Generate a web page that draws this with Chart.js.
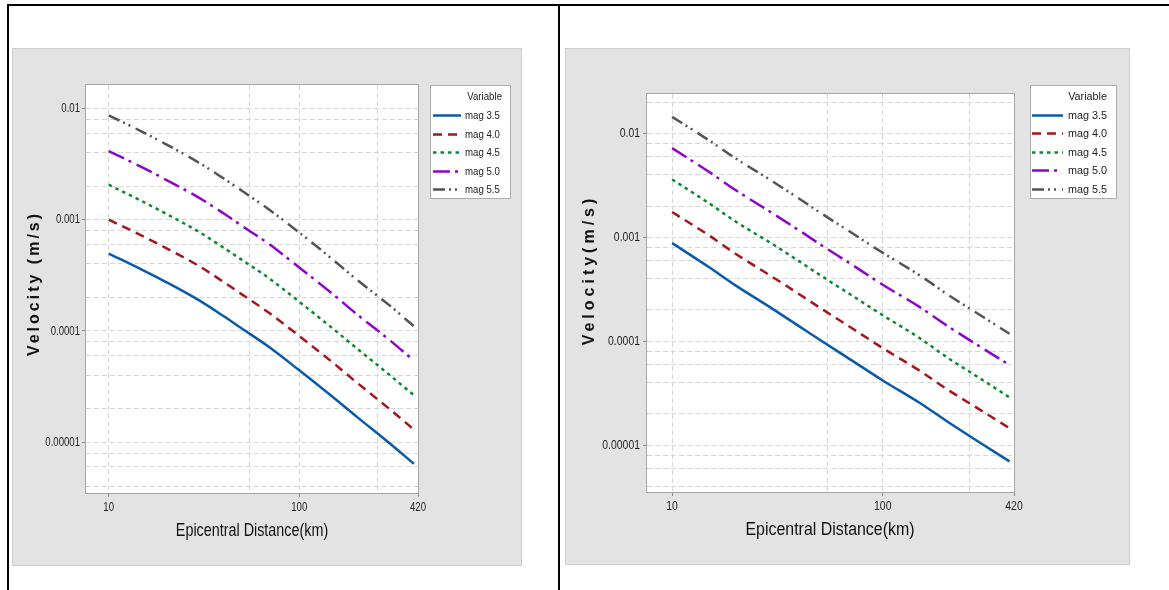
<!DOCTYPE html>
<html>
<head>
<meta charset="utf-8">
<script src="https://cdn.jsdelivr.net/npm/chart.js@4.4.1/dist/chart.umd.min.js"></script>
<style>
  html, body { margin: 0; padding: 0; background: #fff; }
  body { width: 1169px; height: 590px; position: relative; overflow: hidden; }
  .rule { position: absolute; background: #000; }
  canvas { position: absolute; }
</style>
</head>
<body>
<div class="rule" style="left:7px; top:4px; width:1162px; height:2px"></div>
<div class="rule" style="left:7px; top:4px; width:2px; height:586px"></div>
<div class="rule" style="left:558px; top:4px; width:2px; height:586px"></div>
<canvas id="leftChart" width="510" height="518" style="left:12px; top:48px"></canvas>
<canvas id="rightChart" width="565" height="517" style="left:565px; top:48px"></canvas>
<script>
// epicentral distance (km)
const distances = [10, 15, 20, 30, 40, 50, 70, 100, 150, 200, 300, 400];
const magLabels = ["mag 3.5", "mag 4.0", "mag 4.5", "mag 5.0", "mag 5.5"];

// left panel, velocity (m/s)
const leftMag35 = [4.96e-4, 3.54e-4, 2.75e-4, 1.87e-4, 1.36e-4, 1.05e-4, 7.1e-5, 4.43e-5, 2.55e-5, 1.7e-5, 9.7e-6, 6.4e-6];
const leftMag40 = [1.0e-3, 7.15e-4, 5.55e-4, 3.8e-4, 2.76e-4, 2.13e-4, 1.44e-4, 9.0e-5, 5.2e-5, 3.45e-5, 1.97e-5, 1.3e-5];
const leftMag45 = [2.06e-3, 1.46e-3, 1.13e-3, 7.7e-4, 5.6e-4, 4.35e-4, 2.94e-4, 1.83e-4, 1.05e-4, 7.0e-5, 3.98e-5, 2.64e-5];
const leftMag50 = [4.13e-3, 2.95e-3, 2.28e-3, 1.56e-3, 1.14e-3, 8.8e-4, 5.97e-4, 3.72e-4, 2.14e-4, 1.42e-4, 8.2e-5, 5.4e-5];
const leftMag55 = [8.65e-3, 6.15e-3, 4.75e-3, 3.22e-3, 2.35e-3, 1.82e-3, 1.22e-3, 7.65e-4, 4.38e-4, 2.9e-4, 1.68e-4, 1.1e-4];

// right panel, velocity (m/s)
const rightMag35 = [8.8e-4, 5.15e-4, 3.45e-4, 2.05e-4, 1.4e-4, 1.04e-4, 6.7e-5, 4.2e-5, 2.55e-5, 1.72e-5, 1.01e-5, 7.0e-6];
const rightMag40 = [1.75e-3, 1.04e-3, 6.95e-4, 4.15e-4, 2.85e-4, 2.12e-4, 1.37e-4, 8.6e-5, 5.2e-5, 3.5e-5, 2.1e-5, 1.46e-5];
const rightMag45 = [3.6e-3, 2.12e-3, 1.42e-3, 8.6e-4, 5.9e-4, 4.38e-4, 2.83e-4, 1.78e-4, 1.07e-4, 7.1e-5, 4.2e-5, 2.88e-5];
const rightMag50 = [7.2e-3, 4.25e-3, 2.85e-3, 1.7e-3, 1.17e-3, 8.65e-4, 5.6e-4, 3.5e-4, 2.13e-4, 1.43e-4, 8.5e-5, 5.9e-5];
const rightMag55 = [1.44e-2, 8.55e-3, 5.75e-3, 3.45e-3, 2.36e-3, 1.75e-3, 1.13e-3, 7.1e-4, 4.3e-4, 2.88e-4, 1.71e-4, 1.18e-4];

// axis ticks
const xTickValues = [10, 100, 420];
const xTickLabels = ["10", "100", "420"];
const xGridValues = [10, 54.6, 100, 258, 420];
const yTickValues = [0.01, 0.001, 0.0001, 0.00001];
const yTickLabels = ["0.01", "0.001", "0.0001", "0.00001"];
const yGridSteps = [1, 2, 4, 6, 8];

// no narrow face installed, so Liberation Sans gets squeezed horizontally
const FONT = "'Liberation Sans', Arial, sans-serif";

const lineStyles = [
  { color: "#0a5aa8", dash: [] },
  { color: "#a3161c", dash: [9, 6] },
  { color: "#0b8a2c", dash: [3.5, 4] },
  { color: "#8e05c8", dash: [17, 5, 3, 6] },
  { color: "#545454", dash: [12, 4, 2, 4, 2, 6] }
];

function sameVal(a, b) {
  return Math.abs(Math.log10(a) - Math.log10(b)) < 1e-6;
}

function squeezedText(ctx, text, x, y, font, sx, align) {
  ctx.save();
  ctx.translate(x, y);
  ctx.scale(sx, 1);
  ctx.font = font;
  ctx.textAlign = align;
  ctx.textBaseline = "middle";
  ctx.fillText(text, 0, 0);
  ctx.restore();
}

const panelPlugin = {
  id: "panel",
  beforeDraw(chart) {
    const ctx = chart.ctx, a = chart.chartArea;
    ctx.save();
    ctx.fillStyle = "#e3e3e3";
    ctx.fillRect(0, 0, chart.width, chart.height);
    ctx.strokeStyle = "#cdcdcd";
    ctx.lineWidth = 1;
    ctx.strokeRect(0.5, 0.5, chart.width - 1, chart.height - 1);
    ctx.fillStyle = "#ffffff";
    ctx.fillRect(a.left, a.top, a.right - a.left, a.bottom - a.top);
    ctx.restore();
  },
  beforeDatasetsDraw(chart) {
    const ctx = chart.ctx, a = chart.chartArea;
    ctx.save();
    ctx.strokeStyle = "#a6a6a6";
    ctx.lineWidth = 1;
    ctx.strokeRect(Math.round(a.left) - 0.5, Math.round(a.top) - 0.5,
      Math.round(a.right - a.left) + 1, Math.round(a.bottom - a.top) + 1);
    ctx.restore();
  },
  afterDraw(chart, args, o) {
    const ctx = chart.ctx, a = chart.chartArea;
    const xs = chart.scales.x, ys = chart.scales.y;
    ctx.save();
    ctx.fillStyle = "#222";

    // tick labels
    const tickFont = o.tickSize + "px " + FONT;
    xTickValues.forEach((v, i) => {
      squeezedText(ctx, xTickLabels[i], xs.getPixelForValue(v), a.bottom + o.xLabelDy, tickFont, o.tickSx, "center");
    });
    yTickValues.forEach((v, i) => {
      squeezedText(ctx, yTickLabels[i], a.left - o.yLabelDx, ys.getPixelForValue(v) + 0.5, tickFont, o.tickSx, "right");
    });

    // x axis title
    ctx.fillStyle = "#111";
    squeezedText(ctx, o.xTitle.text, o.xTitle.x, o.xTitle.y, o.xTitle.size + "px " + FONT, o.xTitle.sx, "center");

    // y axis title, rotated and letter spaced
    ctx.save();
    ctx.translate(o.yTitle.x, o.yTitle.y);
    ctx.rotate(-Math.PI / 2);
    ctx.font = "bold " + o.yTitle.size + "px " + FONT;
    ctx.letterSpacing = o.yTitle.spacing + "px";
    ctx.textAlign = "center";
    ctx.textBaseline = "middle";
    ctx.fillText(o.yTitle.text, o.yTitle.spacing / 2, 0);
    ctx.restore();

    // legend box
    const lg = o.legend;
    ctx.fillStyle = "#fff";
    ctx.fillRect(lg.x, lg.y, lg.w, lg.h);
    ctx.strokeStyle = "#adadad";
    ctx.lineWidth = 1;
    ctx.strokeRect(lg.x + 0.5, lg.y + 0.5, lg.w - 1, lg.h - 1);
    const lgFont = lg.size + "px " + FONT;
    ctx.fillStyle = "#222";
    squeezedText(ctx, "Variable", lg.x + lg.w - lg.titleRight, lg.y + 12, lgFont, lg.sx, "right");
    chart.data.datasets.forEach((ds, i) => {
      const yy = Math.round(lg.y + lg.rowTop + i * lg.rowGap) + 0.5;
      ctx.beginPath();
      ctx.setLineDash(ds.borderDash || []);
      ctx.lineWidth = ds.borderWidth;
      ctx.strokeStyle = ds.borderColor;
      ctx.moveTo(lg.x + lg.lineX0, yy);
      ctx.lineTo(lg.x + lg.lineX1, yy);
      ctx.stroke();
      ctx.setLineDash([]);
      squeezedText(ctx, ds.label, lg.x + lg.textX, yy, lgFont, lg.sx, "left");
    });
    ctx.restore();
  }
};

function makeChart(id, series, o) {
  const yGrid = [];
  for (let e = -6; e <= -2; e++) {
    yGridSteps.forEach(s => {
      const v = s * Math.pow(10, e);
      if (v > o.yMin && v < o.yMax) yGrid.push(v);
    });
  }

  return new Chart(document.getElementById(id), {
    type: "line",
    data: {
      datasets: magLabels.map((label, i) => ({
        label: label,
        data: distances.map((d, j) => ({ x: d, y: series[i][j] })),
        borderColor: lineStyles[i].color,
        borderDash: lineStyles[i].dash,
        borderWidth: 2.5,
        pointRadius: 0,
        cubicInterpolationMode: "monotone",
        fill: false
      }))
    },
    options: {
      responsive: false,
      animation: false,
      layout: { padding: { top: o.padTop, right: o.padRight, left: 0, bottom: 0 } },
      plugins: {
        legend: { display: false },
        tooltip: { enabled: false },
        panel: o.panel
      },
      scales: {
        x: {
          type: "logarithmic",
          min: 7.6,
          max: 420,
          afterFit(s) { s.height = o.xAxisH; },
          afterBuildTicks(s) { s.ticks = xGridValues.map(v => ({ value: v })); },
          ticks: { display: false, autoSkip: false },
          grid: {
            color: c => (c.tick && sameVal(c.tick.value, 420)) ? "transparent" : "#d6d6d6",
            tickLength: 4,
            tickColor: c => (c.tick && xTickValues.some(t => sameVal(t, c.tick.value))) ? "#8c8c8c" : "transparent"
          },
          border: { display: false, dash: [5, 3] }
        },
        y: {
          type: "logarithmic",
          min: o.yMin,
          max: o.yMax,
          afterFit(s) { s.width = o.yAxisW; },
          afterBuildTicks(s) { s.ticks = yGrid.map(v => ({ value: v })); },
          ticks: { display: false, autoSkip: false },
          grid: {
            color: "#d6d6d6",
            tickLength: 4,
            tickColor: c => (c.tick && yTickValues.some(t => sameVal(t, c.tick.value))) ? "#8c8c8c" : "transparent"
          },
          border: { display: false, dash: [5, 3] }
        }
      }
    },
    plugins: [panelPlugin]
  });
}

makeChart("leftChart", [leftMag35, leftMag40, leftMag45, leftMag50, leftMag55], {
  yMin: 3.5e-6, yMax: 0.0162,
  padTop: 37, padRight: 104, yAxisW: 74, xAxisH: 73,
  panel: {
    tickSize: 12, tickSx: 0.8, xLabelDy: 15, yLabelDx: 6,
    xTitle: { text: "Epicentral Distance(km)", x: 240, y: 483, size: 17.5, sx: 0.82 },
    yTitle: { text: "Velocity (m/s)", x: 23, y: 237, size: 16, spacing: 3 },
    legend: { x: 418, y: 37, w: 81, h: 114, size: 11.5, sx: 0.84, titleRight: 9, rowTop: 30, rowGap: 18.6, lineX0: 3, lineX1: 31, textX: 35 }
  }
});

makeChart("rightChart", [rightMag35, rightMag40, rightMag45, rightMag50, rightMag55], {
  yMin: 3.55e-6, yMax: 0.0239,
  padTop: 46, padRight: 116, yAxisW: 82, xAxisH: 73,
  panel: {
    tickSize: 12, tickSx: 0.87, xLabelDy: 15, yLabelDx: 7,
    xTitle: { text: "Epicentral Distance(km)", x: 265, y: 482, size: 17.5, sx: 0.91 },
    yTitle: { text: "Velocity(m/s)", x: 25, y: 224, size: 16, spacing: 4 },
    legend: { x: 465, y: 37, w: 87, h: 114, size: 11.5, sx: 0.94, titleRight: 10, rowTop: 30, rowGap: 18.4, lineX0: 2, lineX1: 33, textX: 38 }
  }
});
</script>
</body>
</html>
